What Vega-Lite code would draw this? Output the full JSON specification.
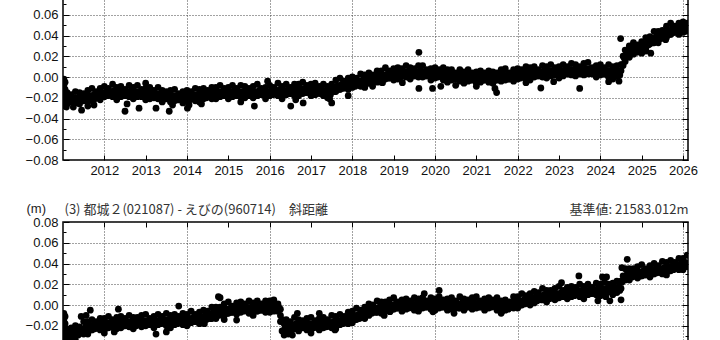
{
"$schema": "https://vega.github.io/schema/vega-lite/v6.json",
"padding": {"left": 24, "top": -13, "right": 4, "bottom": 4},
"bounds": "flush",
"spacing": 62,
"config": {
  "view": {"stroke": "#000", "strokeWidth": 1.5},
  "axis": {"labelFont": "Liberation Sans", "labelFontSize": 13, "labelColor": "#111", "tickColor": "#000", "tickWidth": 1, "domain": false, "gridColor": "#444", "gridDash": [1, 2], "gridWidth": 1, "titleFont": "Liberation Sans", "titleFontSize": 13, "titleFontWeight": "normal", "titleColor": "#222"}
},
"datasets": {
"a": [
{"t":2011.02,"v":-0.002},{"t":2011.02,"v":-0.008},{"t":2011.02,"v":-0.014},{"t":2011.02,"v":-0.02},{"t":2011.02,"v":-0.026},{"t":2011.05,"v":-0.005},{"t":2011.05,"v":-0.012},{"t":2011.05,"v":-0.019},{"t":2011.05,"v":-0.028},{"t":2011.08,"v":-0.022},{"t":2011.08,"v":-0.029},
{"t":2011.1,"v":-0.015},{"t":2011.1,"v":-0.026},{"t":2011.2,"v":-0.017},{"t":2011.2,"v":-0.024},{"t":2011.3,"v":-0.014},{"t":2011.3,"v":-0.025},{"t":2011.4,"v":-0.015},{"t":2011.4,"v":-0.026},{"t":2011.5,"v":-0.016},{"t":2011.5,"v":-0.023},{"t":2011.6,"v":-0.013},{"t":2011.6,"v":-0.024},{"t":2011.7,"v":-0.011},{"t":2011.7,"v":-0.022},{"t":2011.8,"v":-0.014},{"t":2011.8,"v":-0.02},{"t":2011.9,"v":-0.011},{"t":2011.9,"v":-0.022},
{"t":2012.0,"v":-0.009},{"t":2012.0,"v":-0.019},{"t":2012.1,"v":-0.011},{"t":2012.1,"v":-0.017},{"t":2012.2,"v":-0.007},{"t":2012.2,"v":-0.019},{"t":2012.3,"v":-0.01},{"t":2012.3,"v":-0.022},{"t":2012.4,"v":-0.009},{"t":2012.4,"v":-0.019},{"t":2012.5,"v":-0.012},{"t":2012.5,"v":-0.018},{"t":2012.6,"v":-0.008},{"t":2012.6,"v":-0.019},{"t":2012.7,"v":-0.01},{"t":2012.7,"v":-0.021},{"t":2012.8,"v":-0.008},{"t":2012.8,"v":-0.019},{"t":2012.9,"v":-0.012},{"t":2012.9,"v":-0.019},
{"t":2013.0,"v":-0.011},{"t":2013.0,"v":-0.022},{"t":2013.1,"v":-0.01},{"t":2013.1,"v":-0.021},{"t":2013.2,"v":-0.013},{"t":2013.2,"v":-0.02},{"t":2013.3,"v":-0.01},{"t":2013.3,"v":-0.021},{"t":2013.4,"v":-0.013},{"t":2013.4,"v":-0.024},{"t":2013.5,"v":-0.014},{"t":2013.5,"v":-0.021},{"t":2013.6,"v":-0.013},{"t":2013.6,"v":-0.024},{"t":2013.7,"v":-0.012},{"t":2013.7,"v":-0.023},{"t":2013.8,"v":-0.016},{"t":2013.8,"v":-0.022},{"t":2013.9,"v":-0.014},{"t":2013.9,"v":-0.025},
{"t":2014.0,"v":-0.013},{"t":2014.0,"v":-0.023},{"t":2014.1,"v":-0.014},{"t":2014.1,"v":-0.02},{"t":2014.2,"v":-0.011},{"t":2014.2,"v":-0.023},{"t":2014.3,"v":-0.012},{"t":2014.3,"v":-0.024},{"t":2014.4,"v":-0.011},{"t":2014.4,"v":-0.021},{"t":2014.5,"v":-0.013},{"t":2014.5,"v":-0.019},{"t":2014.6,"v":-0.01},{"t":2014.6,"v":-0.021},{"t":2014.7,"v":-0.01},{"t":2014.7,"v":-0.021},{"t":2014.8,"v":-0.008},{"t":2014.8,"v":-0.019},{"t":2014.9,"v":-0.011},{"t":2014.9,"v":-0.018},
{"t":2015.0,"v":-0.01},{"t":2015.0,"v":-0.021},{"t":2015.1,"v":-0.008},{"t":2015.1,"v":-0.019},{"t":2015.2,"v":-0.011},{"t":2015.2,"v":-0.018},{"t":2015.3,"v":-0.008},{"t":2015.3,"v":-0.019},{"t":2015.4,"v":-0.009},{"t":2015.4,"v":-0.02},{"t":2015.5,"v":-0.011},{"t":2015.5,"v":-0.018},{"t":2015.6,"v":-0.009},{"t":2015.6,"v":-0.02},{"t":2015.7,"v":-0.007},{"t":2015.7,"v":-0.018},{"t":2015.8,"v":-0.011},{"t":2015.8,"v":-0.017},{"t":2015.9,"v":-0.01},{"t":2015.9,"v":-0.021},
{"t":2016.0,"v":-0.008},{"t":2016.0,"v":-0.018},{"t":2016.1,"v":-0.01},{"t":2016.1,"v":-0.016},{"t":2016.2,"v":-0.006},{"t":2016.2,"v":-0.018},{"t":2016.3,"v":-0.009},{"t":2016.3,"v":-0.021},{"t":2016.4,"v":-0.007},{"t":2016.4,"v":-0.017},{"t":2016.5,"v":-0.01},{"t":2016.5,"v":-0.016},{"t":2016.6,"v":-0.007},{"t":2016.6,"v":-0.018},{"t":2016.7,"v":-0.007},{"t":2016.7,"v":-0.018},{"t":2016.8,"v":-0.005},{"t":2016.8,"v":-0.016},{"t":2016.9,"v":-0.008},{"t":2016.9,"v":-0.015},
{"t":2017.0,"v":-0.007},{"t":2017.0,"v":-0.018},{"t":2017.1,"v":-0.006},{"t":2017.1,"v":-0.017},{"t":2017.2,"v":-0.009},{"t":2017.2,"v":-0.016},{"t":2017.3,"v":-0.007},{"t":2017.3,"v":-0.018},{"t":2017.4,"v":-0.009},{"t":2017.4,"v":-0.02},{"t":2017.5,"v":-0.007},{"t":2017.5,"v":-0.014},{"t":2017.6,"v":-0.003},{"t":2017.6,"v":-0.014},{"t":2017.7,"v":-0.001},{"t":2017.7,"v":-0.012},{"t":2017.8,"v":-0.004},{"t":2017.8,"v":-0.01},{"t":2017.9,"v":-0.001},{"t":2017.9,"v":-0.012},
{"t":2018.0,"v":0.0},{"t":2018.0,"v":-0.01},{"t":2018.1,"v":-0.001},{"t":2018.1,"v":-0.007},{"t":2018.2,"v":0.003},{"t":2018.2,"v":-0.009},{"t":2018.3,"v":0.002},{"t":2018.3,"v":-0.01},{"t":2018.4,"v":0.004},{"t":2018.4,"v":-0.006},{"t":2018.5,"v":0.002},{"t":2018.5,"v":-0.004},{"t":2018.6,"v":0.006},{"t":2018.6,"v":-0.005},{"t":2018.7,"v":0.006},{"t":2018.7,"v":-0.005},{"t":2018.8,"v":0.009},{"t":2018.8,"v":-0.002},{"t":2018.9,"v":0.006},{"t":2018.9,"v":-0.001},
{"t":2019.0,"v":0.008},{"t":2019.0,"v":-0.003},{"t":2019.1,"v":0.009},{"t":2019.1,"v":-0.002},{"t":2019.2,"v":0.008},{"t":2019.2,"v":0.001},{"t":2019.3,"v":0.011},{"t":2019.3,"v":0.0},{"t":2019.4,"v":0.009},{"t":2019.4,"v":-0.002},{"t":2019.5,"v":0.008},{"t":2019.5,"v":0.001},{"t":2019.6,"v":0.011},{"t":2019.6,"v":0.0},{"t":2019.7,"v":0.011},{"t":2019.7,"v":0.0},{"t":2019.8,"v":0.007},{"t":2019.8,"v":0.001},{"t":2019.9,"v":0.008},{"t":2019.9,"v":-0.003},
{"t":2020.0,"v":0.009},{"t":2020.0,"v":-0.001},{"t":2020.1,"v":0.007},{"t":2020.1,"v":0.001},{"t":2020.2,"v":0.009},{"t":2020.2,"v":-0.003},{"t":2020.3,"v":0.007},{"t":2020.3,"v":-0.005},{"t":2020.4,"v":0.007},{"t":2020.4,"v":-0.003},{"t":2020.5,"v":0.004},{"t":2020.5,"v":-0.002},{"t":2020.6,"v":0.007},{"t":2020.6,"v":-0.004},{"t":2020.7,"v":0.005},{"t":2020.7,"v":-0.006},{"t":2020.8,"v":0.007},{"t":2020.8,"v":-0.004},{"t":2020.9,"v":0.004},{"t":2020.9,"v":-0.003},
{"t":2021.0,"v":0.005},{"t":2021.0,"v":-0.006},{"t":2021.1,"v":0.006},{"t":2021.1,"v":-0.005},{"t":2021.2,"v":0.004},{"t":2021.2,"v":-0.003},{"t":2021.3,"v":0.006},{"t":2021.3,"v":-0.005},{"t":2021.4,"v":0.005},{"t":2021.4,"v":-0.006},{"t":2021.5,"v":0.004},{"t":2021.5,"v":-0.003},{"t":2021.6,"v":0.007},{"t":2021.6,"v":-0.004},{"t":2021.7,"v":0.008},{"t":2021.7,"v":-0.003},{"t":2021.8,"v":0.004},{"t":2021.8,"v":-0.002},{"t":2021.9,"v":0.007},{"t":2021.9,"v":-0.004},
{"t":2022.0,"v":0.008},{"t":2022.0,"v":-0.002},{"t":2022.1,"v":0.007},{"t":2022.1,"v":0.001},{"t":2022.2,"v":0.01},{"t":2022.2,"v":-0.002},{"t":2022.3,"v":0.009},{"t":2022.3,"v":-0.003},{"t":2022.4,"v":0.01},{"t":2022.4,"v":0.0},{"t":2022.5,"v":0.007},{"t":2022.5,"v":0.001},{"t":2022.6,"v":0.011},{"t":2022.6,"v":0.0},{"t":2022.7,"v":0.01},{"t":2022.7,"v":-0.001},{"t":2022.8,"v":0.012},{"t":2022.8,"v":0.001},{"t":2022.9,"v":0.009},{"t":2022.9,"v":0.002},
{"t":2023.0,"v":0.01},{"t":2023.0,"v":-0.001},{"t":2023.1,"v":0.012},{"t":2023.1,"v":0.001},{"t":2023.2,"v":0.01},{"t":2023.2,"v":0.003},{"t":2023.3,"v":0.013},{"t":2023.3,"v":0.002},{"t":2023.4,"v":0.012},{"t":2023.4,"v":0.001},{"t":2023.5,"v":0.01},{"t":2023.5,"v":0.003},{"t":2023.6,"v":0.013},{"t":2023.6,"v":0.002},{"t":2023.7,"v":0.014},{"t":2023.7,"v":0.003},{"t":2023.8,"v":0.009},{"t":2023.8,"v":0.003},{"t":2023.9,"v":0.011},{"t":2023.9,"v":0.0},
{"t":2024.0,"v":0.012},{"t":2024.0,"v":0.002},{"t":2024.1,"v":0.009},{"t":2024.1,"v":0.003},{"t":2024.2,"v":0.012},{"t":2024.2,"v":0.0},{"t":2024.3,"v":0.01},{"t":2024.3,"v":-0.002},{"t":2024.4,"v":0.011},{"t":2024.4,"v":0.001},{"t":2024.5,"v":0.012},{"t":2024.5,"v":0.006},{"t":2024.55,"v":0.02},{"t":2024.55,"v":0.011},{"t":2024.6,"v":0.026},{"t":2024.6,"v":0.015},{"t":2024.7,"v":0.03},{"t":2024.7,"v":0.019},{"t":2024.8,"v":0.033},{"t":2024.8,"v":0.022},{"t":2024.9,"v":0.031},{"t":2024.9,"v":0.024},
{"t":2025.0,"v":0.034},{"t":2025.0,"v":0.023},{"t":2025.1,"v":0.038},{"t":2025.1,"v":0.027},{"t":2025.2,"v":0.039},{"t":2025.2,"v":0.032},{"t":2025.3,"v":0.044},{"t":2025.3,"v":0.033},{"t":2025.4,"v":0.044},{"t":2025.4,"v":0.033},{"t":2025.5,"v":0.045},{"t":2025.5,"v":0.038},{"t":2025.6,"v":0.049},{"t":2025.6,"v":0.038},{"t":2025.7,"v":0.052},{"t":2025.7,"v":0.041},{"t":2025.8,"v":0.049},{"t":2025.8,"v":0.043},{"t":2025.9,"v":0.052},{"t":2025.9,"v":0.041},{"t":2026.0,"v":0.053},{"t":2026.0,"v":0.043},{"t":2026.1,"v":0.052},{"t":2026.1,"v":0.046},
{"t":2011.15,"v":-0.02},{"t":2011.25,"v":-0.02},{"t":2011.35,"v":-0.02},{"t":2011.45,"v":-0.019},{"t":2011.55,"v":-0.019},{"t":2011.65,"v":-0.018},{"t":2011.75,"v":-0.017},{"t":2011.85,"v":-0.016},{"t":2011.95,"v":-0.015},
{"t":2012.05,"v":-0.014},{"t":2012.15,"v":-0.014},{"t":2012.25,"v":-0.013},{"t":2012.35,"v":-0.014},{"t":2012.45,"v":-0.014},{"t":2012.55,"v":-0.014},{"t":2012.65,"v":-0.013},{"t":2012.75,"v":-0.014},{"t":2012.85,"v":-0.014},{"t":2012.95,"v":-0.015},
{"t":2013.05,"v":-0.015},{"t":2013.15,"v":-0.015},{"t":2013.25,"v":-0.016},{"t":2013.35,"v":-0.016},{"t":2013.45,"v":-0.017},{"t":2013.55,"v":-0.017},{"t":2013.65,"v":-0.018},{"t":2013.75,"v":-0.018},{"t":2013.85,"v":-0.018},{"t":2013.95,"v":-0.018},
{"t":2014.05,"v":-0.018},{"t":2014.15,"v":-0.017},{"t":2014.25,"v":-0.017},{"t":2014.35,"v":-0.016},{"t":2014.45,"v":-0.016},{"t":2014.55,"v":-0.015},{"t":2014.65,"v":-0.015},{"t":2014.75,"v":-0.014},{"t":2014.85,"v":-0.014},{"t":2014.95,"v":-0.014},
{"t":2015.05,"v":-0.014},{"t":2015.15,"v":-0.013},{"t":2015.25,"v":-0.014},{"t":2015.35,"v":-0.014},{"t":2015.45,"v":-0.013},{"t":2015.55,"v":-0.014},{"t":2015.65,"v":-0.014},{"t":2015.75,"v":-0.013},{"t":2015.85,"v":-0.013},{"t":2015.95,"v":-0.014},
{"t":2016.05,"v":-0.013},{"t":2016.15,"v":-0.013},{"t":2016.25,"v":-0.012},{"t":2016.35,"v":-0.013},{"t":2016.45,"v":-0.012},{"t":2016.55,"v":-0.012},{"t":2016.65,"v":-0.012},{"t":2016.75,"v":-0.011},{"t":2016.85,"v":-0.011},{"t":2016.95,"v":-0.011},
{"t":2017.05,"v":-0.011},{"t":2017.15,"v":-0.011},{"t":2017.25,"v":-0.012},{"t":2017.35,"v":-0.013},{"t":2017.45,"v":-0.013},{"t":2017.55,"v":-0.01},{"t":2017.65,"v":-0.008},{"t":2017.75,"v":-0.007},{"t":2017.85,"v":-0.006},{"t":2017.95,"v":-0.005},
{"t":2018.05,"v":-0.005},{"t":2018.15,"v":-0.004},{"t":2018.25,"v":-0.003},{"t":2018.35,"v":-0.002},{"t":2018.45,"v":-0.001},{"t":2018.55,"v":0.0},{"t":2018.65,"v":0.001},{"t":2018.75,"v":0.002},{"t":2018.85,"v":0.003},{"t":2018.95,"v":0.003},
{"t":2019.05,"v":0.004},{"t":2019.15,"v":0.004},{"t":2019.25,"v":0.005},{"t":2019.35,"v":0.005},{"t":2019.45,"v":0.005},{"t":2019.55,"v":0.005},{"t":2019.65,"v":0.006},{"t":2019.75,"v":0.005},{"t":2019.85,"v":0.005},{"t":2019.95,"v":0.004},
{"t":2020.05,"v":0.004},{"t":2020.15,"v":0.004},{"t":2020.25,"v":0.003},{"t":2020.35,"v":0.003},{"t":2020.45,"v":0.002},{"t":2020.55,"v":0.002},{"t":2020.65,"v":0.002},{"t":2020.75,"v":0.001},{"t":2020.85,"v":0.001},{"t":2020.95,"v":0.001},
{"t":2021.05,"v":0.001},{"t":2021.15,"v":0.001},{"t":2021.25,"v":0.001},{"t":2021.35,"v":0.0},{"t":2021.45,"v":0.001},{"t":2021.55,"v":0.001},{"t":2021.65,"v":0.002},{"t":2021.75,"v":0.002},{"t":2021.85,"v":0.002},{"t":2021.95,"v":0.003},
{"t":2022.05,"v":0.003},{"t":2022.15,"v":0.004},{"t":2022.25,"v":0.004},{"t":2022.35,"v":0.005},{"t":2022.45,"v":0.005},{"t":2022.55,"v":0.005},{"t":2022.65,"v":0.006},{"t":2022.75,"v":0.006},{"t":2022.85,"v":0.006},{"t":2022.95,"v":0.006},
{"t":2023.05,"v":0.006},{"t":2023.15,"v":0.007},{"t":2023.25,"v":0.007},{"t":2023.35,"v":0.007},{"t":2023.45,"v":0.008},{"t":2023.55,"v":0.007},{"t":2023.65,"v":0.008},{"t":2023.75,"v":0.008},{"t":2023.85,"v":0.007},{"t":2023.95,"v":0.007},
{"t":2024.05,"v":0.007},{"t":2024.15,"v":0.006},{"t":2024.25,"v":0.006},{"t":2024.35,"v":0.006},{"t":2024.45,"v":0.006},{"t":2024.52,"v":0.012},{"t":2024.58,"v":0.018},{"t":2024.65,"v":0.024},{"t":2024.75,"v":0.027},{"t":2024.85,"v":0.028},{"t":2024.95,"v":0.029},
{"t":2025.05,"v":0.032},{"t":2025.15,"v":0.035},{"t":2025.25,"v":0.037},{"t":2025.35,"v":0.039},{"t":2025.45,"v":0.041},{"t":2025.55,"v":0.043},{"t":2025.65,"v":0.045},{"t":2025.75,"v":0.047},{"t":2025.85,"v":0.048},{"t":2025.95,"v":0.048},{"t":2026.05,"v":0.048},
{"t":2011.17,"v":-0.024},{"t":2011.27,"v":-0.024},{"t":2011.37,"v":-0.024},{"t":2011.47,"v":-0.023},{"t":2011.57,"v":-0.023},{"t":2011.67,"v":-0.022},{"t":2011.77,"v":-0.021},{"t":2011.87,"v":-0.02},{"t":2011.97,"v":-0.019},
{"t":2012.07,"v":-0.018},{"t":2012.17,"v":-0.018},{"t":2012.27,"v":-0.017},{"t":2012.37,"v":-0.018},{"t":2012.47,"v":-0.018},{"t":2012.57,"v":-0.018},{"t":2012.67,"v":-0.017},{"t":2012.77,"v":-0.018},{"t":2012.87,"v":-0.018},{"t":2012.97,"v":-0.019},
{"t":2013.07,"v":-0.019},{"t":2013.17,"v":-0.019},{"t":2013.27,"v":-0.02},{"t":2013.37,"v":-0.02},{"t":2013.47,"v":-0.021},{"t":2013.57,"v":-0.021},{"t":2013.67,"v":-0.022},{"t":2013.77,"v":-0.022},{"t":2013.87,"v":-0.022},{"t":2013.97,"v":-0.022},
{"t":2014.07,"v":-0.022},{"t":2014.17,"v":-0.021},{"t":2014.27,"v":-0.021},{"t":2014.37,"v":-0.02},{"t":2014.47,"v":-0.02},{"t":2014.57,"v":-0.019},{"t":2014.67,"v":-0.019},{"t":2014.77,"v":-0.018},{"t":2014.87,"v":-0.018},{"t":2014.97,"v":-0.018},
{"t":2015.07,"v":-0.018},{"t":2015.17,"v":-0.017},{"t":2015.27,"v":-0.018},{"t":2015.37,"v":-0.018},{"t":2015.47,"v":-0.017},{"t":2015.57,"v":-0.018},{"t":2015.67,"v":-0.018},{"t":2015.77,"v":-0.017},{"t":2015.87,"v":-0.017},{"t":2015.97,"v":-0.018},
{"t":2016.07,"v":-0.017},{"t":2016.17,"v":-0.017},{"t":2016.27,"v":-0.016},{"t":2016.37,"v":-0.017},{"t":2016.47,"v":-0.016},{"t":2016.57,"v":-0.016},{"t":2016.67,"v":-0.016},{"t":2016.77,"v":-0.015},{"t":2016.87,"v":-0.015},{"t":2016.97,"v":-0.015},
{"t":2017.07,"v":-0.015},{"t":2017.17,"v":-0.015},{"t":2017.27,"v":-0.016},{"t":2017.37,"v":-0.017},{"t":2017.47,"v":-0.017},{"t":2017.57,"v":-0.014},{"t":2017.67,"v":-0.012},{"t":2017.77,"v":-0.011},{"t":2017.87,"v":-0.01},{"t":2017.97,"v":-0.009},
{"t":2018.07,"v":-0.009},{"t":2018.17,"v":-0.008},{"t":2018.27,"v":-0.007},{"t":2018.37,"v":-0.006},{"t":2018.47,"v":-0.005},{"t":2018.57,"v":-0.004},{"t":2018.67,"v":-0.003},{"t":2018.77,"v":-0.002},{"t":2018.87,"v":-0.001},{"t":2018.97,"v":-0.001},
{"t":2019.07,"v":0.0},{"t":2019.17,"v":0.0},{"t":2019.27,"v":0.001},{"t":2019.37,"v":0.001},{"t":2019.47,"v":0.001},{"t":2019.57,"v":0.001},{"t":2019.67,"v":0.002},{"t":2019.77,"v":0.001},{"t":2019.87,"v":0.001},{"t":2019.97,"v":0.0},
{"t":2020.07,"v":0.0},{"t":2020.17,"v":0.0},{"t":2020.27,"v":-0.001},{"t":2020.37,"v":-0.001},{"t":2020.47,"v":-0.002},{"t":2020.57,"v":-0.002},{"t":2020.67,"v":-0.002},{"t":2020.77,"v":-0.003},{"t":2020.87,"v":-0.003},{"t":2020.97,"v":-0.003},
{"t":2021.07,"v":-0.003},{"t":2021.17,"v":-0.003},{"t":2021.27,"v":-0.003},{"t":2021.37,"v":-0.004},{"t":2021.47,"v":-0.003},{"t":2021.57,"v":-0.003},{"t":2021.67,"v":-0.002},{"t":2021.77,"v":-0.002},{"t":2021.87,"v":-0.002},{"t":2021.97,"v":-0.001},
{"t":2022.07,"v":-0.001},{"t":2022.17,"v":0.0},{"t":2022.27,"v":0.0},{"t":2022.37,"v":0.001},{"t":2022.47,"v":0.001},{"t":2022.57,"v":0.001},{"t":2022.67,"v":0.002},{"t":2022.77,"v":0.002},{"t":2022.87,"v":0.002},{"t":2022.97,"v":0.002},
{"t":2023.07,"v":0.002},{"t":2023.17,"v":0.003},{"t":2023.27,"v":0.003},{"t":2023.37,"v":0.003},{"t":2023.47,"v":0.004},{"t":2023.57,"v":0.003},{"t":2023.67,"v":0.004},{"t":2023.77,"v":0.004},{"t":2023.87,"v":0.003},{"t":2023.97,"v":0.003},
{"t":2024.07,"v":0.003},{"t":2024.17,"v":0.002},{"t":2024.27,"v":0.002},{"t":2024.37,"v":0.002},{"t":2024.47,"v":0.002},{"t":2024.67,"v":0.02},{"t":2024.77,"v":0.023},{"t":2024.87,"v":0.024},{"t":2024.97,"v":0.025},
{"t":2025.07,"v":0.028},{"t":2025.17,"v":0.031},{"t":2025.27,"v":0.033},{"t":2025.37,"v":0.035},{"t":2025.47,"v":0.037},{"t":2025.57,"v":0.039},{"t":2025.67,"v":0.041},{"t":2025.77,"v":0.043},{"t":2025.87,"v":0.044},{"t":2025.97,"v":0.044},{"t":2026.07,"v":0.044},
{"t":2011.25,"v":-0.029},{"t":2011.45,"v":-0.032},{"t":2011.6,"v":-0.028},{"t":2011.75,"v":-0.027},{"t":2012.5,"v":-0.033},{"t":2012.55,"v":-0.026},{"t":2012.84,"v":-0.03},{"t":2013.0,"v":-0.006},{"t":2013.25,"v":-0.03},{"t":2013.57,"v":-0.033},{"t":2013.65,"v":-0.027},{"t":2014.01,"v":-0.03},{"t":2014.05,"v":-0.027},{"t":2014.35,"v":-0.026},{"t":2015.3,"v":-0.024},{"t":2015.63,"v":-0.028},{"t":2015.95,"v":-0.004},{"t":2016.51,"v":-0.028},{"t":2016.63,"v":-0.022},{"t":2016.81,"v":-0.025},{"t":2017.45,"v":-0.021},{"t":2017.5,"v":-0.025},{"t":2017.9,"v":-0.018},{"t":2018.49,"v":-0.009},{"t":2018.73,"v":-0.0055},{"t":2019.21,"v":-0.0055},{"t":2019.61,"v":0.0238},{"t":2019.61,"v":-0.011},{"t":2019.94,"v":-0.011},{"t":2020.14,"v":-0.009},{"t":2020.5,"v":-0.008},{"t":2021.0,"v":-0.009},{"t":2021.45,"v":-0.011},{"t":2021.49,"v":-0.015},{"t":2022.2,"v":-0.0055},{"t":2022.56,"v":-0.0106},{"t":2022.87,"v":-0.0045},{"t":2023.5,"v":-0.011},{"t":2024.2,"v":-0.0045},{"t":2024.45,"v":-0.004},{"t":2024.49,"v":0.037},{"t":2025.1,"v":0.025},{"t":2025.22,"v":0.023},{"t":2025.58,"v":0.036}
],
"b": [
{"t":2011.02,"v":-0.008},{"t":2011.02,"v":-0.014},{"t":2011.02,"v":-0.02},{"t":2011.02,"v":-0.026},{"t":2011.02,"v":-0.032},{"t":2011.05,"v":-0.011},{"t":2011.05,"v":-0.018},{"t":2011.05,"v":-0.025},{"t":2011.05,"v":-0.034},
{"t":2011.1,"v":-0.024},{"t":2011.1,"v":-0.03},{"t":2011.2,"v":-0.022},{"t":2011.2,"v":-0.033},{"t":2011.3,"v":-0.02},{"t":2011.3,"v":-0.03},{"t":2011.4,"v":-0.021},{"t":2011.4,"v":-0.027},{"t":2011.5,"v":-0.016},{"t":2011.5,"v":-0.028},{"t":2011.6,"v":-0.016},{"t":2011.6,"v":-0.028},{"t":2011.7,"v":-0.014},{"t":2011.7,"v":-0.024},{"t":2011.8,"v":-0.016},{"t":2011.8,"v":-0.022},{"t":2011.9,"v":-0.013},{"t":2011.9,"v":-0.024},
{"t":2012.0,"v":-0.013},{"t":2012.0,"v":-0.024},{"t":2012.1,"v":-0.011},{"t":2012.1,"v":-0.022},{"t":2012.2,"v":-0.014},{"t":2012.2,"v":-0.021},{"t":2012.3,"v":-0.012},{"t":2012.3,"v":-0.023},{"t":2012.4,"v":-0.011},{"t":2012.4,"v":-0.022},{"t":2012.5,"v":-0.013},{"t":2012.5,"v":-0.02},{"t":2012.6,"v":-0.01},{"t":2012.6,"v":-0.021},{"t":2012.7,"v":-0.012},{"t":2012.7,"v":-0.023},{"t":2012.8,"v":-0.012},{"t":2012.8,"v":-0.019},{"t":2012.9,"v":-0.01},{"t":2012.9,"v":-0.021},
{"t":2013.0,"v":-0.009},{"t":2013.0,"v":-0.02},{"t":2013.1,"v":-0.013},{"t":2013.1,"v":-0.019},{"t":2013.2,"v":-0.011},{"t":2013.2,"v":-0.022},{"t":2013.3,"v":-0.009},{"t":2013.3,"v":-0.019},{"t":2013.4,"v":-0.011},{"t":2013.4,"v":-0.017},{"t":2013.5,"v":-0.008},{"t":2013.5,"v":-0.02},{"t":2013.6,"v":-0.01},{"t":2013.6,"v":-0.022},{"t":2013.7,"v":-0.009},{"t":2013.7,"v":-0.019},{"t":2013.8,"v":-0.011},{"t":2013.8,"v":-0.017},{"t":2013.9,"v":-0.008},{"t":2013.9,"v":-0.019},
{"t":2014.0,"v":-0.009},{"t":2014.0,"v":-0.02},{"t":2014.1,"v":-0.006},{"t":2014.1,"v":-0.017},{"t":2014.2,"v":-0.009},{"t":2014.2,"v":-0.016},{"t":2014.3,"v":-0.007},{"t":2014.3,"v":-0.018},{"t":2014.4,"v":-0.005},{"t":2014.4,"v":-0.016},{"t":2014.5,"v":-0.006},{"t":2014.5,"v":-0.013},{"t":2014.6,"v":-0.002},{"t":2014.6,"v":-0.013},{"t":2014.7,"v":-0.002},{"t":2014.7,"v":-0.013},{"t":2014.8,"v":-0.002},{"t":2014.8,"v":-0.009},{"t":2014.9,"v":0.001},{"t":2014.9,"v":-0.01},
{"t":2015.0,"v":0.003},{"t":2015.0,"v":-0.008},{"t":2015.1,"v":-0.001},{"t":2015.1,"v":-0.007},{"t":2015.2,"v":0.002},{"t":2015.2,"v":-0.009},{"t":2015.3,"v":0.003},{"t":2015.3,"v":-0.007},{"t":2015.4,"v":0.001},{"t":2015.4,"v":-0.005},{"t":2015.5,"v":0.004},{"t":2015.5,"v":-0.008},{"t":2015.6,"v":0.002},{"t":2015.6,"v":-0.01},{"t":2015.7,"v":0.004},{"t":2015.7,"v":-0.006},{"t":2015.8,"v":0.001},{"t":2015.8,"v":-0.005},{"t":2015.9,"v":0.004},{"t":2015.9,"v":-0.007},
{"t":2016.0,"v":0.004},{"t":2016.0,"v":-0.007},{"t":2016.1,"v":0.005},{"t":2016.1,"v":-0.006},{"t":2016.2,"v":0.001},{"t":2016.2,"v":-0.006},{"t":2016.26,"v":-0.004},{"t":2016.26,"v":-0.01},{"t":2016.26,"v":-0.016},{"t":2016.3,"v":-0.014},{"t":2016.3,"v":-0.025},{"t":2016.4,"v":-0.014},{"t":2016.4,"v":-0.025},{"t":2016.5,"v":-0.016},{"t":2016.5,"v":-0.023},{"t":2016.6,"v":-0.012},{"t":2016.6,"v":-0.023},{"t":2016.7,"v":-0.014},{"t":2016.7,"v":-0.025},{"t":2016.8,"v":-0.015},{"t":2016.8,"v":-0.022},{"t":2016.9,"v":-0.013},{"t":2016.9,"v":-0.024},
{"t":2017.0,"v":-0.012},{"t":2017.0,"v":-0.023},{"t":2017.1,"v":-0.015},{"t":2017.1,"v":-0.021},{"t":2017.2,"v":-0.013},{"t":2017.2,"v":-0.024},{"t":2017.3,"v":-0.012},{"t":2017.3,"v":-0.022},{"t":2017.4,"v":-0.014},{"t":2017.4,"v":-0.02},{"t":2017.5,"v":-0.01},{"t":2017.5,"v":-0.022},{"t":2017.6,"v":-0.011},{"t":2017.6,"v":-0.023},{"t":2017.7,"v":-0.009},{"t":2017.7,"v":-0.019},{"t":2017.8,"v":-0.011},{"t":2017.8,"v":-0.017},{"t":2017.9,"v":-0.007},{"t":2017.9,"v":-0.018},
{"t":2018.0,"v":-0.006},{"t":2018.0,"v":-0.017},{"t":2018.1,"v":-0.003},{"t":2018.1,"v":-0.014},{"t":2018.2,"v":-0.005},{"t":2018.2,"v":-0.012},{"t":2018.3,"v":-0.002},{"t":2018.3,"v":-0.013},{"t":2018.4,"v":0.001},{"t":2018.4,"v":-0.01},{"t":2018.5,"v":0.0},{"t":2018.5,"v":-0.007},{"t":2018.6,"v":0.004},{"t":2018.6,"v":-0.007},{"t":2018.7,"v":0.003},{"t":2018.7,"v":-0.008},{"t":2018.8,"v":0.003},{"t":2018.8,"v":-0.004},{"t":2018.9,"v":0.005},{"t":2018.9,"v":-0.006},
{"t":2019.0,"v":0.007},{"t":2019.0,"v":-0.004},{"t":2019.1,"v":0.003},{"t":2019.1,"v":-0.003},{"t":2019.2,"v":0.005},{"t":2019.2,"v":-0.006},{"t":2019.3,"v":0.006},{"t":2019.3,"v":-0.004},{"t":2019.4,"v":0.004},{"t":2019.4,"v":-0.002},{"t":2019.5,"v":0.007},{"t":2019.5,"v":-0.005},{"t":2019.6,"v":0.006},{"t":2019.6,"v":-0.006},{"t":2019.7,"v":0.007},{"t":2019.7,"v":-0.003},{"t":2019.8,"v":0.004},{"t":2019.8,"v":-0.002},{"t":2019.9,"v":0.007},{"t":2019.9,"v":-0.004},
{"t":2020.0,"v":0.006},{"t":2020.0,"v":-0.005},{"t":2020.1,"v":0.008},{"t":2020.1,"v":-0.003},{"t":2020.2,"v":0.005},{"t":2020.2,"v":-0.002},{"t":2020.3,"v":0.006},{"t":2020.3,"v":-0.005},{"t":2020.4,"v":0.007},{"t":2020.4,"v":-0.004},{"t":2020.5,"v":0.004},{"t":2020.5,"v":-0.003},{"t":2020.6,"v":0.008},{"t":2020.6,"v":-0.003},{"t":2020.7,"v":0.006},{"t":2020.7,"v":-0.005},{"t":2020.8,"v":0.005},{"t":2020.8,"v":-0.002},{"t":2020.9,"v":0.007},{"t":2020.9,"v":-0.004},
{"t":2021.0,"v":0.008},{"t":2021.0,"v":-0.003},{"t":2021.1,"v":0.004},{"t":2021.1,"v":-0.002},{"t":2021.2,"v":0.006},{"t":2021.2,"v":-0.005},{"t":2021.3,"v":0.007},{"t":2021.3,"v":-0.003},{"t":2021.4,"v":0.005},{"t":2021.4,"v":-0.001},{"t":2021.5,"v":0.007},{"t":2021.5,"v":-0.005},{"t":2021.6,"v":0.004},{"t":2021.6,"v":-0.008},{"t":2021.7,"v":0.005},{"t":2021.7,"v":-0.005},{"t":2021.8,"v":0.003},{"t":2021.8,"v":-0.003},{"t":2021.9,"v":0.008},{"t":2021.9,"v":-0.003},
{"t":2022.0,"v":0.008},{"t":2022.0,"v":-0.003},{"t":2022.1,"v":0.011},{"t":2022.1,"v":0.0},{"t":2022.2,"v":0.009},{"t":2022.2,"v":0.002},{"t":2022.3,"v":0.011},{"t":2022.3,"v":0.0},{"t":2022.4,"v":0.013},{"t":2022.4,"v":0.002},{"t":2022.5,"v":0.012},{"t":2022.5,"v":0.005},{"t":2022.6,"v":0.016},{"t":2022.6,"v":0.005},{"t":2022.7,"v":0.014},{"t":2022.7,"v":0.003},{"t":2022.8,"v":0.014},{"t":2022.8,"v":0.007},{"t":2022.9,"v":0.016},{"t":2022.9,"v":0.005},
{"t":2023.0,"v":0.018},{"t":2023.0,"v":0.007},{"t":2023.1,"v":0.014},{"t":2023.1,"v":0.008},{"t":2023.2,"v":0.017},{"t":2023.2,"v":0.006},{"t":2023.3,"v":0.018},{"t":2023.3,"v":0.008},{"t":2023.4,"v":0.017},{"t":2023.4,"v":0.011},{"t":2023.5,"v":0.02},{"t":2023.5,"v":0.008},{"t":2023.6,"v":0.018},{"t":2023.6,"v":0.006},{"t":2023.7,"v":0.02},{"t":2023.7,"v":0.01},{"t":2023.8,"v":0.017},{"t":2023.8,"v":0.011},{"t":2023.9,"v":0.021},{"t":2023.9,"v":0.01},
{"t":2024.0,"v":0.02},{"t":2024.0,"v":0.009},{"t":2024.1,"v":0.022},{"t":2024.1,"v":0.011},{"t":2024.2,"v":0.02},{"t":2024.2,"v":0.013},{"t":2024.3,"v":0.021},{"t":2024.3,"v":0.01},{"t":2024.4,"v":0.023},{"t":2024.4,"v":0.012},{"t":2024.5,"v":0.023},{"t":2024.5,"v":0.016},{"t":2024.6,"v":0.035},{"t":2024.6,"v":0.024},{"t":2024.7,"v":0.035},{"t":2024.7,"v":0.024},{"t":2024.8,"v":0.035},{"t":2024.8,"v":0.028},{"t":2024.9,"v":0.037},{"t":2024.9,"v":0.026},
{"t":2025.0,"v":0.039},{"t":2025.0,"v":0.028},{"t":2025.1,"v":0.035},{"t":2025.1,"v":0.029},{"t":2025.2,"v":0.038},{"t":2025.2,"v":0.027},{"t":2025.3,"v":0.04},{"t":2025.3,"v":0.03},{"t":2025.4,"v":0.038},{"t":2025.4,"v":0.032},{"t":2025.5,"v":0.042},{"t":2025.5,"v":0.03},{"t":2025.6,"v":0.041},{"t":2025.6,"v":0.029},{"t":2025.7,"v":0.043},{"t":2025.7,"v":0.033},{"t":2025.8,"v":0.041},{"t":2025.8,"v":0.035},{"t":2025.9,"v":0.045},{"t":2025.9,"v":0.034},{"t":2026.0,"v":0.045},{"t":2026.0,"v":0.034},{"t":2026.1,"v":0.048},{"t":2026.1,"v":0.037},
{"t":2011.15,"v":-0.026},{"t":2011.25,"v":-0.026},{"t":2011.35,"v":-0.025},{"t":2011.45,"v":-0.023},{"t":2011.55,"v":-0.021},{"t":2011.65,"v":-0.02},{"t":2011.75,"v":-0.019},{"t":2011.85,"v":-0.018},{"t":2011.95,"v":-0.018},
{"t":2012.05,"v":-0.017},{"t":2012.15,"v":-0.017},{"t":2012.25,"v":-0.017},{"t":2012.35,"v":-0.016},{"t":2012.45,"v":-0.016},{"t":2012.55,"v":-0.016},{"t":2012.65,"v":-0.016},{"t":2012.75,"v":-0.016},{"t":2012.85,"v":-0.015},{"t":2012.95,"v":-0.015},
{"t":2013.05,"v":-0.015},{"t":2013.15,"v":-0.015},{"t":2013.25,"v":-0.015},{"t":2013.35,"v":-0.014},{"t":2013.45,"v":-0.014},{"t":2013.55,"v":-0.014},{"t":2013.65,"v":-0.014},{"t":2013.75,"v":-0.014},{"t":2013.85,"v":-0.013},{"t":2013.95,"v":-0.013},
{"t":2014.05,"v":-0.013},{"t":2014.15,"v":-0.012},{"t":2014.25,"v":-0.012},{"t":2014.35,"v":-0.011},{"t":2014.45,"v":-0.01},{"t":2014.55,"v":-0.009},{"t":2014.65,"v":-0.007},{"t":2014.75,"v":-0.006},{"t":2014.85,"v":-0.005},{"t":2014.95,"v":-0.004},
{"t":2015.05,"v":-0.003},{"t":2015.15,"v":-0.003},{"t":2015.25,"v":-0.002},{"t":2015.35,"v":-0.002},{"t":2015.45,"v":-0.002},{"t":2015.55,"v":-0.002},{"t":2015.65,"v":-0.002},{"t":2015.75,"v":-0.001},{"t":2015.85,"v":-0.001},{"t":2015.95,"v":-0.001},
{"t":2016.05,"v":0.0},{"t":2016.15,"v":-0.001},{"t":2016.22,"v":-0.002},{"t":2016.35,"v":-0.018},{"t":2016.45,"v":-0.019},{"t":2016.55,"v":-0.019},{"t":2016.65,"v":-0.018},{"t":2016.75,"v":-0.018},{"t":2016.85,"v":-0.018},{"t":2016.95,"v":-0.018},
{"t":2017.05,"v":-0.018},{"t":2017.15,"v":-0.017},{"t":2017.25,"v":-0.017},{"t":2017.35,"v":-0.017},{"t":2017.45,"v":-0.017},{"t":2017.55,"v":-0.016},{"t":2017.65,"v":-0.015},{"t":2017.75,"v":-0.014},{"t":2017.85,"v":-0.013},{"t":2017.95,"v":-0.011},
{"t":2018.05,"v":-0.01},{"t":2018.15,"v":-0.009},{"t":2018.25,"v":-0.007},{"t":2018.35,"v":-0.005},{"t":2018.45,"v":-0.004},{"t":2018.55,"v":-0.003},{"t":2018.65,"v":-0.002},{"t":2018.75,"v":-0.001},{"t":2018.85,"v":0.0},{"t":2018.95,"v":0.0},
{"t":2019.05,"v":0.001},{"t":2019.15,"v":0.001},{"t":2019.25,"v":0.001},{"t":2019.35,"v":0.001},{"t":2019.45,"v":0.001},{"t":2019.55,"v":0.001},{"t":2019.65,"v":0.002},{"t":2019.75,"v":0.002},{"t":2019.85,"v":0.002},{"t":2019.95,"v":0.002},
{"t":2020.05,"v":0.002},{"t":2020.15,"v":0.002},{"t":2020.25,"v":0.002},{"t":2020.35,"v":0.002},{"t":2020.45,"v":0.002},{"t":2020.55,"v":0.001},{"t":2020.65,"v":0.002},{"t":2020.75,"v":0.002},{"t":2020.85,"v":0.002},{"t":2020.95,"v":0.002},
{"t":2021.05,"v":0.002},{"t":2021.15,"v":0.002},{"t":2021.25,"v":0.002},{"t":2021.35,"v":0.002},{"t":2021.45,"v":0.002},{"t":2021.55,"v":0.001},{"t":2021.65,"v":0.0},{"t":2021.75,"v":0.0},{"t":2021.85,"v":0.002},{"t":2021.95,"v":0.003},
{"t":2022.05,"v":0.004},{"t":2022.15,"v":0.005},{"t":2022.25,"v":0.006},{"t":2022.35,"v":0.007},{"t":2022.45,"v":0.008},{"t":2022.55,"v":0.009},{"t":2022.65,"v":0.01},{"t":2022.75,"v":0.01},{"t":2022.85,"v":0.011},{"t":2022.95,"v":0.011},
{"t":2023.05,"v":0.012},{"t":2023.15,"v":0.012},{"t":2023.25,"v":0.013},{"t":2023.35,"v":0.013},{"t":2023.45,"v":0.014},{"t":2023.55,"v":0.014},{"t":2023.65,"v":0.014},{"t":2023.75,"v":0.015},{"t":2023.85,"v":0.015},{"t":2023.95,"v":0.016},
{"t":2024.05,"v":0.016},{"t":2024.15,"v":0.016},{"t":2024.25,"v":0.017},{"t":2024.35,"v":0.017},{"t":2024.45,"v":0.018},{"t":2024.52,"v":0.022},{"t":2024.55,"v":0.028},{"t":2024.65,"v":0.03},{"t":2024.75,"v":0.031},{"t":2024.85,"v":0.032},{"t":2024.95,"v":0.032},
{"t":2025.05,"v":0.033},{"t":2025.15,"v":0.033},{"t":2025.25,"v":0.034},{"t":2025.35,"v":0.035},{"t":2025.45,"v":0.035},{"t":2025.55,"v":0.036},{"t":2025.65,"v":0.037},{"t":2025.75,"v":0.038},{"t":2025.85,"v":0.039},{"t":2025.95,"v":0.04},{"t":2026.05,"v":0.041},
{"t":2011.17,"v":-0.03},{"t":2011.27,"v":-0.03},{"t":2011.37,"v":-0.029},{"t":2011.47,"v":-0.027},{"t":2011.57,"v":-0.025},{"t":2011.67,"v":-0.024},{"t":2011.77,"v":-0.023},{"t":2011.87,"v":-0.022},{"t":2011.97,"v":-0.022},
{"t":2012.07,"v":-0.021},{"t":2012.17,"v":-0.021},{"t":2012.27,"v":-0.021},{"t":2012.37,"v":-0.02},{"t":2012.47,"v":-0.02},{"t":2012.57,"v":-0.02},{"t":2012.67,"v":-0.02},{"t":2012.77,"v":-0.02},{"t":2012.87,"v":-0.019},{"t":2012.97,"v":-0.019},
{"t":2013.07,"v":-0.019},{"t":2013.17,"v":-0.019},{"t":2013.27,"v":-0.019},{"t":2013.37,"v":-0.018},{"t":2013.47,"v":-0.018},{"t":2013.57,"v":-0.018},{"t":2013.67,"v":-0.018},{"t":2013.77,"v":-0.018},{"t":2013.87,"v":-0.017},{"t":2013.97,"v":-0.017},
{"t":2014.07,"v":-0.017},{"t":2014.17,"v":-0.016},{"t":2014.27,"v":-0.016},{"t":2014.37,"v":-0.015},{"t":2014.47,"v":-0.014},{"t":2014.57,"v":-0.013},{"t":2014.67,"v":-0.011},{"t":2014.77,"v":-0.01},{"t":2014.87,"v":-0.009},{"t":2014.97,"v":-0.008},
{"t":2015.07,"v":-0.007},{"t":2015.17,"v":-0.007},{"t":2015.27,"v":-0.006},{"t":2015.37,"v":-0.006},{"t":2015.47,"v":-0.006},{"t":2015.57,"v":-0.006},{"t":2015.67,"v":-0.006},{"t":2015.77,"v":-0.005},{"t":2015.87,"v":-0.005},{"t":2015.97,"v":-0.005},
{"t":2016.07,"v":-0.004},{"t":2016.17,"v":-0.005},{"t":2016.37,"v":-0.022},{"t":2016.47,"v":-0.023},{"t":2016.57,"v":-0.023},{"t":2016.67,"v":-0.022},{"t":2016.77,"v":-0.022},{"t":2016.87,"v":-0.022},{"t":2016.97,"v":-0.022},
{"t":2017.07,"v":-0.022},{"t":2017.17,"v":-0.021},{"t":2017.27,"v":-0.021},{"t":2017.37,"v":-0.021},{"t":2017.47,"v":-0.021},{"t":2017.57,"v":-0.02},{"t":2017.67,"v":-0.019},{"t":2017.77,"v":-0.018},{"t":2017.87,"v":-0.017},{"t":2017.97,"v":-0.015},
{"t":2018.07,"v":-0.014},{"t":2018.17,"v":-0.013},{"t":2018.27,"v":-0.011},{"t":2018.37,"v":-0.009},{"t":2018.47,"v":-0.008},{"t":2018.57,"v":-0.007},{"t":2018.67,"v":-0.006},{"t":2018.77,"v":-0.005},{"t":2018.87,"v":-0.004},{"t":2018.97,"v":-0.004},
{"t":2019.07,"v":-0.003},{"t":2019.17,"v":-0.003},{"t":2019.27,"v":-0.003},{"t":2019.37,"v":-0.003},{"t":2019.47,"v":-0.003},{"t":2019.57,"v":-0.003},{"t":2019.67,"v":-0.002},{"t":2019.77,"v":-0.002},{"t":2019.87,"v":-0.002},{"t":2019.97,"v":-0.002},
{"t":2020.07,"v":-0.002},{"t":2020.17,"v":-0.002},{"t":2020.27,"v":-0.002},{"t":2020.37,"v":-0.002},{"t":2020.47,"v":-0.002},{"t":2020.57,"v":-0.003},{"t":2020.67,"v":-0.002},{"t":2020.77,"v":-0.002},{"t":2020.87,"v":-0.002},{"t":2020.97,"v":-0.002},
{"t":2021.07,"v":-0.002},{"t":2021.17,"v":-0.002},{"t":2021.27,"v":-0.002},{"t":2021.37,"v":-0.002},{"t":2021.47,"v":-0.002},{"t":2021.57,"v":-0.003},{"t":2021.67,"v":-0.004},{"t":2021.77,"v":-0.004},{"t":2021.87,"v":-0.002},{"t":2021.97,"v":-0.001},
{"t":2022.07,"v":0.0},{"t":2022.17,"v":0.001},{"t":2022.27,"v":0.002},{"t":2022.37,"v":0.003},{"t":2022.47,"v":0.004},{"t":2022.57,"v":0.005},{"t":2022.67,"v":0.006},{"t":2022.77,"v":0.006},{"t":2022.87,"v":0.007},{"t":2022.97,"v":0.007},
{"t":2023.07,"v":0.008},{"t":2023.17,"v":0.008},{"t":2023.27,"v":0.009},{"t":2023.37,"v":0.009},{"t":2023.47,"v":0.01},{"t":2023.57,"v":0.01},{"t":2023.67,"v":0.01},{"t":2023.77,"v":0.011},{"t":2023.87,"v":0.011},{"t":2023.97,"v":0.012},
{"t":2024.07,"v":0.012},{"t":2024.17,"v":0.012},{"t":2024.27,"v":0.013},{"t":2024.37,"v":0.013},{"t":2024.47,"v":0.014},{"t":2024.67,"v":0.026},{"t":2024.77,"v":0.027},{"t":2024.87,"v":0.028},{"t":2024.97,"v":0.028},
{"t":2025.07,"v":0.029},{"t":2025.17,"v":0.029},{"t":2025.27,"v":0.03},{"t":2025.37,"v":0.031},{"t":2025.47,"v":0.031},{"t":2025.57,"v":0.032},{"t":2025.67,"v":0.033},{"t":2025.77,"v":0.034},{"t":2025.87,"v":0.035},{"t":2025.97,"v":0.036},{"t":2026.07,"v":0.037},
{"t":2011.2,"v":-0.036},{"t":2011.3,"v":-0.034},{"t":2011.44,"v":-0.011},{"t":2011.56,"v":-0.01},{"t":2011.66,"v":-0.005},{"t":2012.0,"v":-0.027},{"t":2012.24,"v":-0.026},{"t":2012.34,"v":-0.004},{"t":2013.25,"v":-0.028},{"t":2013.5,"v":-0.026},{"t":2013.8,"v":-0.001},{"t":2014.42,"v":-0.018},{"t":2014.76,"v":0.008},{"t":2014.8,"v":0.007},{"t":2014.9,"v":-0.014},{"t":2015.2,"v":-0.0145},{"t":2016.35,"v":-0.029},{"t":2016.45,"v":-0.028},{"t":2016.49,"v":-0.027},{"t":2016.55,"v":-0.029},{"t":2016.67,"v":-0.008},{"t":2017.0,"v":-0.027},{"t":2017.2,"v":-0.008},{"t":2017.58,"v":-0.024},{"t":2018.77,"v":-0.01},{"t":2018.91,"v":-0.0064},{"t":2019.74,"v":0.011},{"t":2019.95,"v":-0.0065},{"t":2020.1,"v":0.014},{"t":2020.46,"v":-0.008},{"t":2021.61,"v":-0.0065},{"t":2023.06,"v":0.0215},{"t":2023.48,"v":0.028},{"t":2023.94,"v":0.004},{"t":2024.05,"v":0.027},{"t":2024.13,"v":0.008},{"t":2024.15,"v":0.027},{"t":2024.23,"v":0.004},{"t":2024.5,"v":0.005},{"t":2024.52,"v":0.036},{"t":2024.65,"v":0.044}
]
},
"vconcat": [
{
 "width": 625, "height": 166,
 "data": {"name": "a"},
 "layer": [
  {"mark": {"type": "point", "filled": true, "size": 46, "color": "#000", "opacity": 1, "clip": true},
   "encoding": {
    "x": {"field": "t", "type": "quantitative", "scale": {"domain": [2011, 2026.12], "nice": false, "zero": false},
      "axis": {"orient": "bottom", "values": [2012,2013,2014,2015,2016,2017,2018,2019,2020,2021,2022,2023,2024,2025,2026], "format": "d", "title": null, "tickSize": -5, "labelPadding": 9, "labelFlush": false, "labelOverlap": false, "grid": true, "gridOpacity": {"condition": {"test": "datum.value % 2 == 0", "value": 1}, "value": 0}}},
    "y": {"field": "v", "type": "quantitative", "scale": {"domain": [-0.08, 0.08], "nice": false, "zero": false},
      "axis": {"orient": "left", "values": [-0.08,-0.07,-0.06,-0.05,-0.04,-0.03,-0.02,-0.01,0,0.01,0.02,0.03,0.04,0.05,0.06,0.07,0.08], "format": ".2f", "labelExpr": "abs(round(datum.value*100)) % 2 == 0 ? datum.label : ''", "title": null, "tickSize": {"condition": {"test": "abs(round(datum.value*100)) % 2 == 0", "value": -6}, "value": -3}, "labelPadding": 11, "labelFlush": false, "labelOverlap": false, "grid": true, "gridOpacity": {"condition": {"test": "abs(round(datum.value*100)) % 2 == 0", "value": 1}, "value": 0}}}
   }},
  {"mark": {"type": "point", "opacity": 0},
   "encoding": {
    "x": {"field": "t", "type": "quantitative", "axis": {"orient": "top", "values": [2012,2013,2014,2015,2016,2017,2018,2019,2020,2021,2022,2023,2024,2025,2026], "labels": false, "title": null, "tickSize": -5, "grid": false}},
    "y": {"field": "v", "type": "quantitative", "axis": {"orient": "right", "values": [-0.08,-0.07,-0.06,-0.05,-0.04,-0.03,-0.02,-0.01,0,0.01,0.02,0.03,0.04,0.05,0.06,0.07,0.08], "labels": false, "title": null, "tickSize": {"condition": {"test": "abs(round(datum.value*100)) % 2 == 0", "value": -6}, "value": -3}, "grid": false}}
   }}
 ],
 "resolve": {"axis": {"x": "independent", "y": "independent"}}
},
{
 "width": 625, "height": 166,
 "data": {"name": "b"},
 "layer": [
  {"mark": {"type": "point", "filled": true, "size": 46, "color": "#000", "opacity": 1, "clip": true},
   "encoding": {
    "x": {"field": "t", "type": "quantitative", "scale": {"domain": [2011, 2026.12], "nice": false, "zero": false},
      "axis": {"orient": "bottom", "values": [2012,2013,2014,2015,2016,2017,2018,2019,2020,2021,2022,2023,2024,2025,2026], "format": "d", "title": null, "tickSize": -5, "labelPadding": 9, "labelFlush": false, "labelOverlap": false, "grid": true, "gridOpacity": {"condition": {"test": "datum.value % 2 == 0", "value": 1}, "value": 0}}},
    "y": {"field": "v", "type": "quantitative", "scale": {"domain": [-0.08, 0.08], "nice": false, "zero": false},
      "axis": {"orient": "left", "values": [-0.08,-0.07,-0.06,-0.05,-0.04,-0.03,-0.02,-0.01,0,0.01,0.02,0.03,0.04,0.05,0.06,0.07,0.08], "format": ".2f", "labelExpr": "abs(round(datum.value*100)) % 2 == 0 ? datum.label : ''", "title": "(m)", "titleAngle": 0, "titleX": -37, "titleY": -14, "titleAlign": "left", "titleBaseline": "middle", "tickSize": {"condition": {"test": "abs(round(datum.value*100)) % 2 == 0", "value": -6}, "value": -3}, "labelPadding": 11, "labelFlush": false, "labelOverlap": false, "grid": true, "gridOpacity": {"condition": {"test": "abs(round(datum.value*100)) % 2 == 0", "value": 1}, "value": 0}}}
   }},
  {"mark": {"type": "point", "opacity": 0},
   "encoding": {
    "x": {"field": "t", "type": "quantitative", "axis": {"orient": "top", "values": [2012,2013,2014,2015,2016,2017,2018,2019,2020,2021,2022,2023,2024,2025,2026], "labels": false, "title": "(3)  都城２(021087) - えびの(960714)　斜距離", "titleX": 1, "titleY": -13, "titleAlign": "left", "titleBaseline": "middle", "titleFont": "Noto Sans CJK JP", "titleFontSize": 13, "titleColor": "#333", "tickSize": -5, "grid": false}},
    "y": {"field": "v", "type": "quantitative", "axis": {"orient": "right", "values": [-0.08,-0.07,-0.06,-0.05,-0.04,-0.03,-0.02,-0.01,0,0.01,0.02,0.03,0.04,0.05,0.06,0.07,0.08], "labels": false, "title": "基準値: 21583.012m", "titleAngle": 0, "titleX": 0, "titleY": -13, "titleAlign": "right", "titleBaseline": "middle", "titleFont": "Noto Sans CJK JP", "titleFontSize": 13, "titleColor": "#333", "tickSize": {"condition": {"test": "abs(round(datum.value*100)) % 2 == 0", "value": -6}, "value": -3}, "grid": false}}
   }}
 ],
 "resolve": {"axis": {"x": "independent", "y": "independent"}}
}
]
}
